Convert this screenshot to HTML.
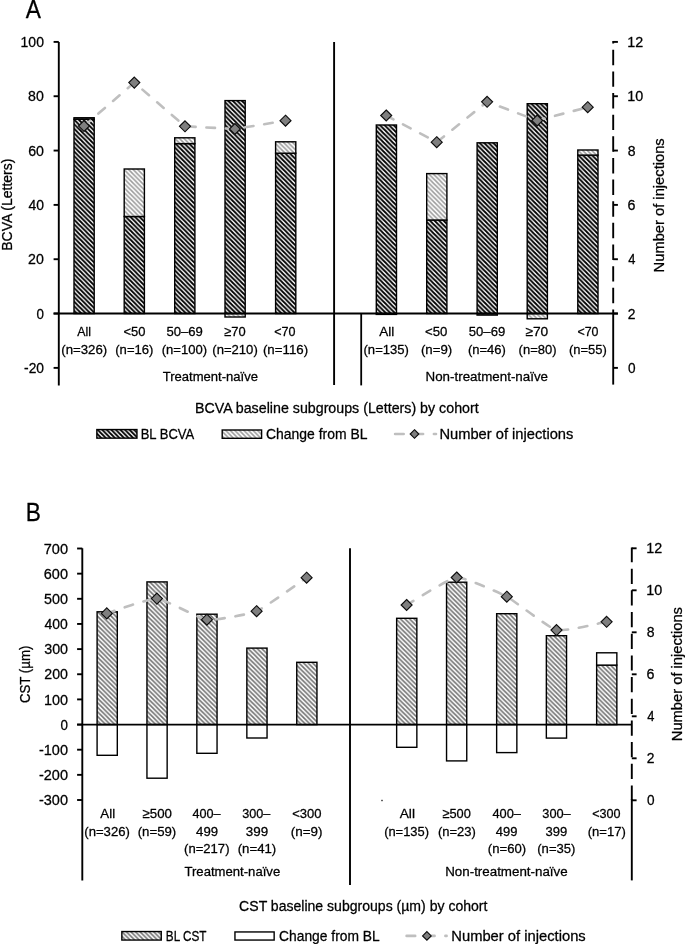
<!DOCTYPE html>
<html><head><meta charset="utf-8"><title>Figure</title>
<style>html,body{margin:0;padding:0;background:#fff;}svg{display:block;will-change:transform;filter:blur(0.3px);}text{font-family:"Liberation Sans", sans-serif;white-space:pre;}</style>
</head><body>
<svg width="685" height="944" viewBox="0 0 685 944">
<rect width="685" height="944" fill="#fff"/>
<defs>
<pattern id="hd" width="4.55" height="4.55" patternUnits="userSpaceOnUse"><rect width="4.55" height="4.55" fill="#fff"/><path d="M-1,-1 L5.55,5.55 M-1,3.55 L1,5.55 M3.55,-1 L5.55,1" stroke="#000" stroke-width="1.8"/></pattern>
<pattern id="hl" width="4.55" height="4.55" patternUnits="userSpaceOnUse"><rect width="4.55" height="4.55" fill="#fff"/><path d="M-1,-1 L5.55,5.55 M-1,3.55 L1,5.55 M3.55,-1 L5.55,1" stroke="#9c9c9c" stroke-width="1.5"/></pattern>
<pattern id="hg" width="4.55" height="4.55" patternUnits="userSpaceOnUse"><rect width="4.55" height="4.55" fill="#fff"/><path d="M-1,-1 L5.55,5.55 M-1,3.55 L1,5.55 M3.55,-1 L5.55,1" stroke="#737373" stroke-width="1.6"/></pattern>
</defs>
<rect x="74.00" y="119.25" width="20.2" height="194.30" fill="url(#hd)" stroke="#000" stroke-width="1.4"/>
<rect x="74.00" y="117.75" width="20.2" height="1.50" fill="url(#hl)" stroke="#000" stroke-width="1.4"/>
<rect x="124.20" y="216.50" width="20.2" height="97.05" fill="url(#hd)" stroke="#000" stroke-width="1.4"/>
<rect x="124.20" y="169.00" width="20.2" height="47.50" fill="url(#hl)" stroke="#000" stroke-width="1.4"/>
<rect x="174.70" y="143.60" width="20.2" height="169.95" fill="url(#hd)" stroke="#000" stroke-width="1.4"/>
<rect x="174.70" y="137.80" width="20.2" height="5.80" fill="url(#hl)" stroke="#000" stroke-width="1.4"/>
<rect x="225.00" y="100.60" width="20.2" height="212.95" fill="url(#hd)" stroke="#000" stroke-width="1.4"/>
<rect x="225.00" y="313.55" width="20.2" height="3.45" fill="url(#hl)" stroke="#000" stroke-width="1.4"/>
<rect x="275.60" y="153.20" width="20.2" height="160.35" fill="url(#hd)" stroke="#000" stroke-width="1.4"/>
<rect x="275.60" y="141.80" width="20.2" height="11.40" fill="url(#hl)" stroke="#000" stroke-width="1.4"/>
<rect x="376.30" y="125.00" width="20.2" height="188.55" fill="url(#hd)" stroke="#000" stroke-width="1.4"/>
<rect x="376.30" y="313.55" width="20.2" height="0.85" fill="url(#hl)" stroke="#000" stroke-width="1.4"/>
<rect x="426.70" y="220.00" width="20.2" height="93.55" fill="url(#hd)" stroke="#000" stroke-width="1.4"/>
<rect x="426.70" y="173.60" width="20.2" height="46.40" fill="url(#hl)" stroke="#000" stroke-width="1.4"/>
<rect x="477.10" y="142.80" width="20.2" height="170.75" fill="url(#hd)" stroke="#000" stroke-width="1.4"/>
<rect x="477.10" y="313.55" width="20.2" height="1.55" fill="url(#hl)" stroke="#000" stroke-width="1.4"/>
<rect x="527.20" y="103.70" width="20.2" height="209.85" fill="url(#hd)" stroke="#000" stroke-width="1.4"/>
<rect x="527.20" y="313.55" width="20.2" height="5.25" fill="url(#hl)" stroke="#000" stroke-width="1.4"/>
<rect x="577.80" y="155.10" width="20.2" height="158.45" fill="url(#hd)" stroke="#000" stroke-width="1.4"/>
<rect x="577.80" y="150.00" width="20.2" height="5.10" fill="url(#hl)" stroke="#000" stroke-width="1.4"/>
<path d="M58.8,41.9 V385.4" stroke="#000" stroke-width="1.9" fill="none"/>
<path d="M53.6,41.90 H58.8" stroke="#000" stroke-width="1.9" fill="none"/>
<path d="M53.6,96.23 H58.8" stroke="#000" stroke-width="1.9" fill="none"/>
<path d="M53.6,150.56 H58.8" stroke="#000" stroke-width="1.9" fill="none"/>
<path d="M53.6,204.89 H58.8" stroke="#000" stroke-width="1.9" fill="none"/>
<path d="M53.6,259.22 H58.8" stroke="#000" stroke-width="1.9" fill="none"/>
<path d="M53.6,313.55 H58.8" stroke="#000" stroke-width="1.9" fill="none"/>
<path d="M53.6,367.88 H58.8" stroke="#000" stroke-width="1.9" fill="none"/>
<path d="M53.6,313.55 H617.9" stroke="#000" stroke-width="1.9" fill="none"/>
<path d="M334.1,41.9 V385" stroke="#000" stroke-width="1.9" fill="none"/>
<path d="M361.2,313.55 V385.4" stroke="#000" stroke-width="1.8"/>
<path d="M613.2,41 V313.55" stroke="#000" stroke-width="1.9" stroke-dasharray="15.4 6.23" stroke-dashoffset="12.8"/>
<path d="M613.2,313.55 V384.6" stroke="#000" stroke-width="1.9" fill="none"/>
<path d="M613.2,41.90 H617.9" stroke="#000" stroke-width="1.9" fill="none"/>
<path d="M613.2,96.23 H617.9" stroke="#000" stroke-width="1.9" fill="none"/>
<path d="M613.2,150.56 H617.9" stroke="#000" stroke-width="1.9" fill="none"/>
<path d="M613.2,204.89 H617.9" stroke="#000" stroke-width="1.9" fill="none"/>
<path d="M613.2,259.22 H617.9" stroke="#000" stroke-width="1.9" fill="none"/>
<path d="M613.2,313.55 H617.9" stroke="#000" stroke-width="1.9" fill="none"/>
<path d="M613.2,367.88 H617.9" stroke="#000" stroke-width="1.9" fill="none"/>
<polyline points="84,126 134.3,82.6 185,126.3 234.9,129 285.5,120.7" fill="none" stroke="#bfbfbf" stroke-width="2.6" stroke-dasharray="8.6 10.8" stroke-linecap="round" stroke-dashoffset="0.4"/>
<polyline points="386.2,115.5 436.7,142.2 487.1,101.8 537.2,120.5 587.7,107.2" fill="none" stroke="#bfbfbf" stroke-width="2.6" stroke-dasharray="8.6 10.8" stroke-linecap="round" stroke-dashoffset="0.4"/>
<polygon points="84.00,120.50 89.50,126.00 84.00,131.50 78.50,126.00" fill="#7f7f7f" stroke="#0d0d0d" stroke-width="1.15"/>
<polygon points="134.30,77.10 139.80,82.60 134.30,88.10 128.80,82.60" fill="#7f7f7f" stroke="#0d0d0d" stroke-width="1.15"/>
<polygon points="185.00,120.80 190.50,126.30 185.00,131.80 179.50,126.30" fill="#7f7f7f" stroke="#0d0d0d" stroke-width="1.15"/>
<polygon points="234.90,123.50 240.40,129.00 234.90,134.50 229.40,129.00" fill="#7f7f7f" stroke="#0d0d0d" stroke-width="1.15"/>
<polygon points="285.50,115.20 291.00,120.70 285.50,126.20 280.00,120.70" fill="#7f7f7f" stroke="#0d0d0d" stroke-width="1.15"/>
<polygon points="386.20,110.00 391.70,115.50 386.20,121.00 380.70,115.50" fill="#7f7f7f" stroke="#0d0d0d" stroke-width="1.15"/>
<polygon points="436.70,136.70 442.20,142.20 436.70,147.70 431.20,142.20" fill="#7f7f7f" stroke="#0d0d0d" stroke-width="1.15"/>
<polygon points="487.10,96.30 492.60,101.80 487.10,107.30 481.60,101.80" fill="#7f7f7f" stroke="#0d0d0d" stroke-width="1.15"/>
<polygon points="537.20,115.00 542.70,120.50 537.20,126.00 531.70,120.50" fill="#7f7f7f" stroke="#0d0d0d" stroke-width="1.15"/>
<polygon points="587.70,101.70 593.20,107.20 587.70,112.70 582.20,107.20" fill="#7f7f7f" stroke="#0d0d0d" stroke-width="1.15"/>
<rect x="96.85" y="429.55" width="40.1" height="8.6" fill="url(#hd)" stroke="#000" stroke-width="1.4"/>
<rect x="222.2" y="430.0" width="39.4" height="8.3" fill="url(#hl)" stroke="#000" stroke-width="1.4"/>
<path d="M395.1,434 H436" fill="none" stroke="#bfbfbf" stroke-width="2.6" stroke-dasharray="8.6 10.8" stroke-linecap="round" stroke-dashoffset="0"/>
<polygon points="414.50,429.70 418.80,434.00 414.50,438.30 410.20,434.00" fill="#7f7f7f" stroke="#0d0d0d" stroke-width="1.15"/>
<rect x="97.10" y="611.80" width="20.2" height="112.80" fill="url(#hg)" stroke="#000" stroke-width="1.4"/>
<rect x="97.10" y="724.60" width="20.2" height="30.70" fill="#fff" stroke="#000" stroke-width="1.4"/>
<rect x="146.95" y="581.90" width="20.2" height="142.70" fill="url(#hg)" stroke="#000" stroke-width="1.4"/>
<rect x="146.95" y="724.60" width="20.2" height="53.60" fill="#fff" stroke="#000" stroke-width="1.4"/>
<rect x="196.85" y="614.20" width="20.2" height="110.40" fill="url(#hg)" stroke="#000" stroke-width="1.4"/>
<rect x="196.85" y="724.60" width="20.2" height="28.70" fill="#fff" stroke="#000" stroke-width="1.4"/>
<rect x="246.85" y="648.10" width="20.2" height="76.50" fill="url(#hg)" stroke="#000" stroke-width="1.4"/>
<rect x="246.85" y="724.60" width="20.2" height="13.40" fill="#fff" stroke="#000" stroke-width="1.4"/>
<rect x="296.75" y="662.30" width="20.2" height="62.30" fill="url(#hg)" stroke="#000" stroke-width="1.4"/>
<rect x="396.65" y="618.30" width="20.2" height="106.30" fill="url(#hg)" stroke="#000" stroke-width="1.4"/>
<rect x="396.65" y="724.60" width="20.2" height="22.70" fill="#fff" stroke="#000" stroke-width="1.4"/>
<rect x="446.55" y="582.20" width="20.2" height="142.40" fill="url(#hg)" stroke="#000" stroke-width="1.4"/>
<rect x="446.55" y="724.60" width="20.2" height="36.30" fill="#fff" stroke="#000" stroke-width="1.4"/>
<rect x="496.65" y="613.70" width="20.2" height="110.90" fill="url(#hg)" stroke="#000" stroke-width="1.4"/>
<rect x="496.65" y="724.60" width="20.2" height="28.00" fill="#fff" stroke="#000" stroke-width="1.4"/>
<rect x="546.35" y="635.70" width="20.2" height="88.90" fill="url(#hg)" stroke="#000" stroke-width="1.4"/>
<rect x="546.35" y="724.60" width="20.2" height="13.50" fill="#fff" stroke="#000" stroke-width="1.4"/>
<rect x="596.65" y="665.10" width="20.2" height="59.50" fill="url(#hg)" stroke="#000" stroke-width="1.4"/>
<rect x="596.65" y="652.80" width="20.2" height="12.30" fill="#fff" stroke="#000" stroke-width="1.4"/>
<path d="M82.3,548.3 V880.6" stroke="#000" stroke-width="1.9" fill="none"/>
<path d="M77.1,548.50 H82.3" stroke="#000" stroke-width="1.9" fill="none"/>
<path d="M77.1,573.65 H82.3" stroke="#000" stroke-width="1.9" fill="none"/>
<path d="M77.1,598.80 H82.3" stroke="#000" stroke-width="1.9" fill="none"/>
<path d="M77.1,623.95 H82.3" stroke="#000" stroke-width="1.9" fill="none"/>
<path d="M77.1,649.10 H82.3" stroke="#000" stroke-width="1.9" fill="none"/>
<path d="M77.1,674.25 H82.3" stroke="#000" stroke-width="1.9" fill="none"/>
<path d="M77.1,699.40 H82.3" stroke="#000" stroke-width="1.9" fill="none"/>
<path d="M77.1,724.55 H82.3" stroke="#000" stroke-width="1.9" fill="none"/>
<path d="M77.1,749.70 H82.3" stroke="#000" stroke-width="1.9" fill="none"/>
<path d="M77.1,774.85 H82.3" stroke="#000" stroke-width="1.9" fill="none"/>
<path d="M77.1,800.00 H82.3" stroke="#000" stroke-width="1.9" fill="none"/>
<path d="M77.1,724.6 H632" stroke="#000" stroke-width="1.9" fill="none"/>
<path d="M350,548.3 V885" stroke="#000" stroke-width="1.9" fill="none"/>
<rect x="381.3" y="799.8" width="1.4" height="1.4" fill="#222"/>
<path d="M631.8,547.6 V800" stroke="#000" stroke-width="1.9" stroke-dasharray="15.2 6.48" stroke-dashoffset="0.6"/>
<path d="M631.8,799 V880.4" stroke="#000" stroke-width="1.9" fill="none"/>
<path d="M631.8,548.30 H636.6" stroke="#000" stroke-width="1.9" fill="none"/>
<path d="M631.8,590.30 H636.6" stroke="#000" stroke-width="1.9" fill="none"/>
<path d="M631.8,632.30 H636.6" stroke="#000" stroke-width="1.9" fill="none"/>
<path d="M631.8,674.30 H636.6" stroke="#000" stroke-width="1.9" fill="none"/>
<path d="M631.8,716.30 H636.6" stroke="#000" stroke-width="1.9" fill="none"/>
<path d="M631.8,758.30 H636.6" stroke="#000" stroke-width="1.9" fill="none"/>
<path d="M631.8,800.30 H636.6" stroke="#000" stroke-width="1.9" fill="none"/>
<path d="M106.80,613.40 C110.56,612.29 149.39,598.13 156.90,598.60 C164.41,599.07 199.42,618.75 206.90,619.70 C214.38,620.65 249.12,614.35 256.60,611.20 C264.08,608.05 302.85,580.21 306.60,577.70" fill="none" stroke="#bfbfbf" stroke-width="2.6" stroke-dasharray="8.6 10.8" stroke-linecap="round" stroke-dashoffset="0.4"/>
<path d="M406.60,605.00 C410.36,602.94 449.19,578.12 456.70,577.50 C464.21,576.88 499.31,592.75 506.80,596.70 C514.28,600.65 549.01,628.22 556.50,630.10 C563.99,631.98 602.84,622.42 606.60,621.80" fill="none" stroke="#bfbfbf" stroke-width="2.6" stroke-dasharray="8.6 10.8" stroke-linecap="round" stroke-dashoffset="0.4"/>
<polygon points="106.80,607.90 112.30,613.40 106.80,618.90 101.30,613.40" fill="#7f7f7f" stroke="#0d0d0d" stroke-width="1.15"/>
<polygon points="156.90,593.10 162.40,598.60 156.90,604.10 151.40,598.60" fill="#7f7f7f" stroke="#0d0d0d" stroke-width="1.15"/>
<polygon points="206.90,614.20 212.40,619.70 206.90,625.20 201.40,619.70" fill="#7f7f7f" stroke="#0d0d0d" stroke-width="1.15"/>
<polygon points="256.60,605.70 262.10,611.20 256.60,616.70 251.10,611.20" fill="#7f7f7f" stroke="#0d0d0d" stroke-width="1.15"/>
<polygon points="306.60,572.20 312.10,577.70 306.60,583.20 301.10,577.70" fill="#7f7f7f" stroke="#0d0d0d" stroke-width="1.15"/>
<polygon points="406.60,599.50 412.10,605.00 406.60,610.50 401.10,605.00" fill="#7f7f7f" stroke="#0d0d0d" stroke-width="1.15"/>
<polygon points="456.70,572.00 462.20,577.50 456.70,583.00 451.20,577.50" fill="#7f7f7f" stroke="#0d0d0d" stroke-width="1.15"/>
<polygon points="506.80,591.20 512.30,596.70 506.80,602.20 501.30,596.70" fill="#7f7f7f" stroke="#0d0d0d" stroke-width="1.15"/>
<polygon points="556.50,624.60 562.00,630.10 556.50,635.60 551.00,630.10" fill="#7f7f7f" stroke="#0d0d0d" stroke-width="1.15"/>
<polygon points="606.60,616.30 612.10,621.80 606.60,627.30 601.10,621.80" fill="#7f7f7f" stroke="#0d0d0d" stroke-width="1.15"/>
<rect x="121.85" y="931.55" width="39.4" height="8.5" fill="url(#hg)" stroke="#000" stroke-width="1.4"/>
<rect x="234.95" y="931.95" width="39.2" height="8.1" fill="#fff" stroke="#000" stroke-width="1.4"/>
<path d="M406.6,935.9 H446.6" fill="none" stroke="#bfbfbf" stroke-width="2.6" stroke-dasharray="8.6 10.8" stroke-linecap="round" stroke-dashoffset="0"/>
<polygon points="426.90,931.60 431.20,935.90 426.90,940.20 422.60,935.90" fill="#7f7f7f" stroke="#0d0d0d" stroke-width="1.15"/>
<g font-family='"Liberation Sans", sans-serif' fill="#000" stroke="#000" stroke-width="0.28" stroke-linejoin="round"><text x="25.80" y="17.80" font-size="25.8" textLength="15.16" lengthAdjust="spacingAndGlyphs">A</text>
<text x="20.60" y="47.00" font-size="15.1" textLength="23.31" lengthAdjust="spacingAndGlyphs">100</text>
<text x="28.12" y="101.33" font-size="15.1" textLength="15.73" lengthAdjust="spacingAndGlyphs">80</text>
<text x="28.16" y="155.66" font-size="15.1" textLength="15.78" lengthAdjust="spacingAndGlyphs">60</text>
<text x="28.45" y="209.99" font-size="15.1" textLength="15.49" lengthAdjust="spacingAndGlyphs">40</text>
<text x="28.08" y="264.32" font-size="15.1" textLength="15.76" lengthAdjust="spacingAndGlyphs">20</text>
<text x="36.40" y="318.65" font-size="15.1" textLength="7.43" lengthAdjust="spacingAndGlyphs">0</text>
<text x="24.04" y="372.98" font-size="15.1" textLength="19.95" lengthAdjust="spacingAndGlyphs">-20</text>
<text x="627.32" y="47.00" font-size="15.1" textLength="15.93" lengthAdjust="spacingAndGlyphs">12</text>
<text x="627.32" y="101.33" font-size="15.1" textLength="15.96" lengthAdjust="spacingAndGlyphs">10</text>
<text x="627.80" y="155.66" font-size="15.1" textLength="7.81" lengthAdjust="spacingAndGlyphs">8</text>
<text x="627.61" y="209.99" font-size="15.1" textLength="7.95" lengthAdjust="spacingAndGlyphs">6</text>
<text x="628.18" y="264.32" font-size="15.1" textLength="7.17" lengthAdjust="spacingAndGlyphs">4</text>
<text x="627.86" y="318.65" font-size="15.1" textLength="7.75" lengthAdjust="spacingAndGlyphs">2</text>
<text x="627.94" y="372.98" font-size="15.1" textLength="7.57" lengthAdjust="spacingAndGlyphs">0</text>
<text x="77.34" y="336.30" font-size="13.7" textLength="13.74" lengthAdjust="spacingAndGlyphs">All</text>
<text x="61.24" y="353.80" font-size="13.7" textLength="45.99" lengthAdjust="spacingAndGlyphs">(n=326)</text>
<text x="123.49" y="336.30" font-size="13.7" textLength="21.98" lengthAdjust="spacingAndGlyphs">&lt;50</text>
<text x="115.27" y="353.80" font-size="13.7" textLength="38.17" lengthAdjust="spacingAndGlyphs">(n=16)</text>
<text x="166.44" y="336.30" font-size="13.7" textLength="36.43" lengthAdjust="spacingAndGlyphs">50–69</text>
<text x="161.77" y="353.80" font-size="13.7" textLength="45.36" lengthAdjust="spacingAndGlyphs">(n=100)</text>
<text x="224.20" y="336.30" font-size="13.7" textLength="21.43" lengthAdjust="spacingAndGlyphs">≥70</text>
<text x="212.27" y="353.80" font-size="13.7" textLength="45.50" lengthAdjust="spacingAndGlyphs">(n=210)</text>
<text x="274.30" y="336.30" font-size="13.7" textLength="21.27" lengthAdjust="spacingAndGlyphs">&lt;70</text>
<text x="262.96" y="353.80" font-size="13.7" textLength="45.12" lengthAdjust="spacingAndGlyphs">(n=116)</text>
<text x="379.28" y="336.30" font-size="13.7" textLength="15.03" lengthAdjust="spacingAndGlyphs">All</text>
<text x="363.53" y="353.80" font-size="13.7" textLength="45.41" lengthAdjust="spacingAndGlyphs">(n=135)</text>
<text x="424.96" y="336.30" font-size="13.7" textLength="22.39" lengthAdjust="spacingAndGlyphs">&lt;50</text>
<text x="420.96" y="353.80" font-size="13.7" textLength="31.29" lengthAdjust="spacingAndGlyphs">(n=9)</text>
<text x="468.76" y="336.30" font-size="13.7" textLength="36.48" lengthAdjust="spacingAndGlyphs">50–69</text>
<text x="467.93" y="353.80" font-size="13.7" textLength="37.88" lengthAdjust="spacingAndGlyphs">(n=46)</text>
<text x="525.40" y="336.30" font-size="13.7" textLength="22.85" lengthAdjust="spacingAndGlyphs">≥70</text>
<text x="518.60" y="353.80" font-size="13.7" textLength="37.87" lengthAdjust="spacingAndGlyphs">(n=80)</text>
<text x="577.45" y="336.30" font-size="13.7" textLength="21.05" lengthAdjust="spacingAndGlyphs">&lt;70</text>
<text x="568.93" y="353.80" font-size="13.7" textLength="37.88" lengthAdjust="spacingAndGlyphs">(n=55)</text>
<text x="162.72" y="381.00" font-size="13.7" textLength="95.32" lengthAdjust="spacingAndGlyphs">Treatment-naïve</text>
<text x="425.56" y="381.00" font-size="13.7" textLength="122.49" lengthAdjust="spacingAndGlyphs">Non-treatment-naïve</text>
<text x="194.93" y="412.80" font-size="15.1" textLength="283.75" lengthAdjust="spacingAndGlyphs">BCVA baseline subgroups (Letters) by cohort</text>
<text x="140.67" y="438.90" font-size="15.1" textLength="53.53" lengthAdjust="spacingAndGlyphs">BL BCVA</text>
<text x="266.06" y="438.90" font-size="15.1" textLength="101.42" lengthAdjust="spacingAndGlyphs">Change from BL</text>
<text x="439.40" y="438.90" font-size="15.1" textLength="133.98" lengthAdjust="spacingAndGlyphs">Number of injections</text>
<text x="25.80" y="521.20" font-size="25.8" textLength="15.16" lengthAdjust="spacingAndGlyphs">B</text>
<text x="43.76" y="553.60" font-size="15.1" textLength="24.28" lengthAdjust="spacingAndGlyphs">700</text>
<text x="43.83" y="578.75" font-size="15.1" textLength="24.12" lengthAdjust="spacingAndGlyphs">600</text>
<text x="44.01" y="603.90" font-size="15.1" textLength="23.94" lengthAdjust="spacingAndGlyphs">500</text>
<text x="44.61" y="629.05" font-size="15.1" textLength="23.26" lengthAdjust="spacingAndGlyphs">400</text>
<text x="44.20" y="654.20" font-size="15.1" textLength="23.82" lengthAdjust="spacingAndGlyphs">300</text>
<text x="44.27" y="679.35" font-size="15.1" textLength="23.64" lengthAdjust="spacingAndGlyphs">200</text>
<text x="43.91" y="704.50" font-size="15.1" textLength="24.03" lengthAdjust="spacingAndGlyphs">100</text>
<text x="60.40" y="729.65" font-size="15.1" textLength="7.43" lengthAdjust="spacingAndGlyphs">0</text>
<text x="38.94" y="754.80" font-size="15.1" textLength="29.02" lengthAdjust="spacingAndGlyphs">-100</text>
<text x="38.94" y="779.95" font-size="15.1" textLength="29.02" lengthAdjust="spacingAndGlyphs">-200</text>
<text x="38.94" y="805.10" font-size="15.1" textLength="29.02" lengthAdjust="spacingAndGlyphs">-300</text>
<text x="646.32" y="553.40" font-size="15.1" textLength="15.93" lengthAdjust="spacingAndGlyphs">12</text>
<text x="646.32" y="595.40" font-size="15.1" textLength="15.96" lengthAdjust="spacingAndGlyphs">10</text>
<text x="646.80" y="637.40" font-size="15.1" textLength="7.81" lengthAdjust="spacingAndGlyphs">8</text>
<text x="646.61" y="679.40" font-size="15.1" textLength="7.95" lengthAdjust="spacingAndGlyphs">6</text>
<text x="647.18" y="721.40" font-size="15.1" textLength="7.17" lengthAdjust="spacingAndGlyphs">4</text>
<text x="646.86" y="763.40" font-size="15.1" textLength="7.75" lengthAdjust="spacingAndGlyphs">2</text>
<text x="646.94" y="805.40" font-size="15.1" textLength="7.57" lengthAdjust="spacingAndGlyphs">0</text>
<text x="100.32" y="818.10" font-size="13.7" textLength="14.78" lengthAdjust="spacingAndGlyphs">All</text>
<text x="84.28" y="835.50" font-size="13.7" textLength="45.60" lengthAdjust="spacingAndGlyphs">(n=326)</text>
<text x="142.55" y="818.10" font-size="13.7" textLength="29.41" lengthAdjust="spacingAndGlyphs">≥500</text>
<text x="137.70" y="835.50" font-size="13.7" textLength="38.59" lengthAdjust="spacingAndGlyphs">(n=59)</text>
<text x="192.46" y="818.10" font-size="13.7" textLength="28.05" lengthAdjust="spacingAndGlyphs">400–</text>
<text x="196.12" y="835.50" font-size="13.7" textLength="21.97" lengthAdjust="spacingAndGlyphs">499</text>
<text x="184.09" y="852.80" font-size="13.7" textLength="45.42" lengthAdjust="spacingAndGlyphs">(n=217)</text>
<text x="242.28" y="818.10" font-size="13.7" textLength="28.11" lengthAdjust="spacingAndGlyphs">300–</text>
<text x="245.75" y="835.50" font-size="13.7" textLength="22.36" lengthAdjust="spacingAndGlyphs">399</text>
<text x="237.70" y="852.80" font-size="13.7" textLength="38.59" lengthAdjust="spacingAndGlyphs">(n=41)</text>
<text x="292.14" y="818.10" font-size="13.7" textLength="29.33" lengthAdjust="spacingAndGlyphs">&lt;300</text>
<text x="290.77" y="835.50" font-size="13.7" textLength="31.79" lengthAdjust="spacingAndGlyphs">(n=9)</text>
<text x="399.70" y="818.10" font-size="13.7" textLength="15.27" lengthAdjust="spacingAndGlyphs">All</text>
<text x="384.13" y="835.50" font-size="13.7" textLength="44.88" lengthAdjust="spacingAndGlyphs">(n=135)</text>
<text x="442.40" y="818.10" font-size="13.7" textLength="28.42" lengthAdjust="spacingAndGlyphs">≥500</text>
<text x="437.93" y="835.50" font-size="13.7" textLength="37.88" lengthAdjust="spacingAndGlyphs">(n=23)</text>
<text x="492.43" y="818.10" font-size="13.7" textLength="28.50" lengthAdjust="spacingAndGlyphs">400–</text>
<text x="495.87" y="835.50" font-size="13.7" textLength="21.61" lengthAdjust="spacingAndGlyphs">499</text>
<text x="487.86" y="852.80" font-size="13.7" textLength="38.18" lengthAdjust="spacingAndGlyphs">(n=60)</text>
<text x="542.31" y="818.10" font-size="13.7" textLength="28.39" lengthAdjust="spacingAndGlyphs">300–</text>
<text x="545.58" y="835.50" font-size="13.7" textLength="21.77" lengthAdjust="spacingAndGlyphs">399</text>
<text x="537.27" y="852.80" font-size="13.7" textLength="38.17" lengthAdjust="spacingAndGlyphs">(n=35)</text>
<text x="592.17" y="818.10" font-size="13.7" textLength="28.40" lengthAdjust="spacingAndGlyphs">&lt;300</text>
<text x="587.69" y="835.50" font-size="13.7" textLength="38.07" lengthAdjust="spacingAndGlyphs">(n=17)</text>
<text x="184.46" y="876.00" font-size="13.7" textLength="95.77" lengthAdjust="spacingAndGlyphs">Treatment-naïve</text>
<text x="445.19" y="876.00" font-size="13.7" textLength="122.50" lengthAdjust="spacingAndGlyphs">Non-treatment-naïve</text>
<text x="239.12" y="910.60" font-size="15.1" textLength="248.33" lengthAdjust="spacingAndGlyphs">CST baseline subgroups (µm) by cohort</text>
<text x="165.85" y="940.70" font-size="15.1" textLength="40.69" lengthAdjust="spacingAndGlyphs">BL CST</text>
<text x="279.11" y="940.70" font-size="15.1" textLength="100.57" lengthAdjust="spacingAndGlyphs">Change from BL</text>
<text x="451.29" y="940.70" font-size="15.1" textLength="134.45" lengthAdjust="spacingAndGlyphs">Number of injections</text>
<text transform="translate(11.80,250.75) rotate(-90)" x="0" y="0" font-size="15.1" textLength="92.13" lengthAdjust="spacingAndGlyphs">BCVA (Letters)</text>
<text transform="translate(663.70,272.42) rotate(-90)" x="0" y="0" font-size="15.1" textLength="134.14" lengthAdjust="spacingAndGlyphs">Number of injections</text>
<text transform="translate(30.30,703.11) rotate(-90)" x="0" y="0" font-size="15.1" textLength="57.45" lengthAdjust="spacingAndGlyphs">CST (µm)</text>
<text transform="translate(682.20,741.22) rotate(-90)" x="0" y="0" font-size="15.1" textLength="134.20" lengthAdjust="spacingAndGlyphs">Number of injections</text></g>
</svg>
</body></html>
